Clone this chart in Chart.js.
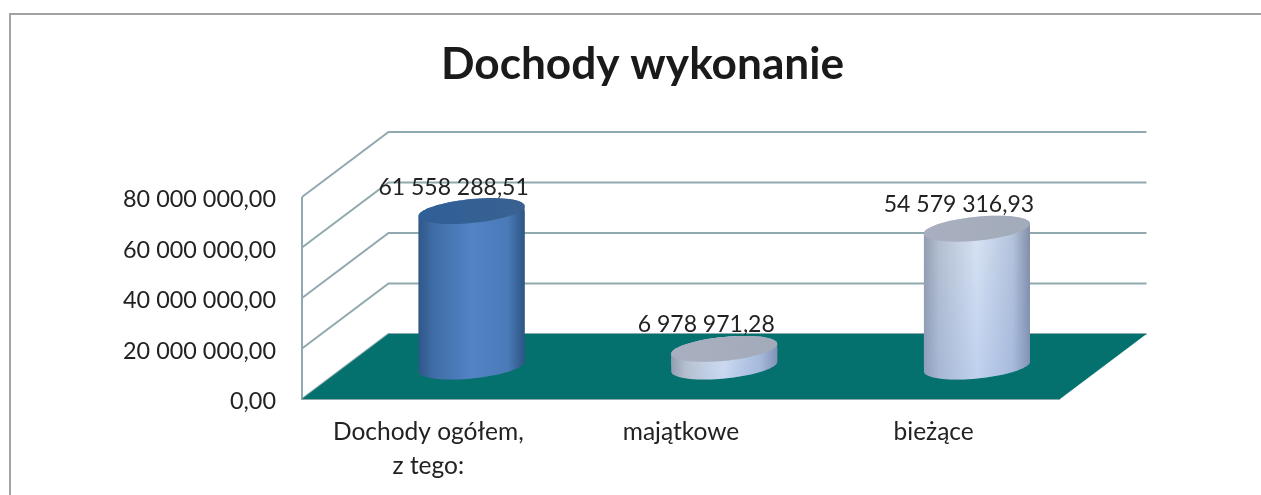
<!DOCTYPE html>
<html lang="pl">
<head>
<meta charset="utf-8">
<script src="https://cdn.jsdelivr.net/npm/chart.js@4/dist/chart.umd.min.js"></script>
<style>
html,body{margin:0;padding:0;background:#fff;overflow:hidden}
#wrap{position:relative;width:1261px;height:495px}
#frame{position:absolute;left:9px;top:13px;right:-4px;bottom:-4px;border:2px solid #a2a2a6;box-sizing:border-box}
canvas{position:absolute;left:0;top:0}
</style>
</head>
<body>
<div id="wrap"><div id="frame"></div><canvas id="c" width="1261" height="495"></canvas></div>
<script>
const titleText = 'Dochody wykonanie';
const categories = [['Dochody ogółem,', 'z tego:'], 'majątkowe', 'bieżące'];
const values = [61558288.51, 6978971.28, 54579316.93];
const barStops = [
  ['#2f5788', '#3f6da6', '#5283c4', '#4a7ab8', '#2e5583'],
  ['#939db0', '#b4bfd0', '#d8e3f3', '#b6c4db', '#828da6'],
  ['#939db0', '#b4bfd0', '#d8e3f3', '#b6c4db', '#828da6']
];
const capColors = [['#2f5f98', '#3a6190'], ['#a9afc0', '#a2abba'], ['#a9afc0', '#a2abba']];
const tint = [null, 'rgba(125,160,225,0.28)', 'rgba(125,160,225,0.28)'];

const FONT = 'Lato, Carlito, sans-serif';
const DX = 86.5, DY = -65;          // depth of the box
const RX = 53, SKEW = 5, RY = 12;

function fmt(v) {
  const [i, d] = Number(v).toFixed(2).split('.');
  return i.replace(/\B(?=(\d{3})+(?!\d))/g, ' ') + ',' + d;
}
function sideGrad(ctx, cx, stops) {
  const g = ctx.createLinearGradient(cx - RX, 0, cx + RX, 0);
  [0, 0.14, 0.5, 0.84, 1].forEach((p, i) => g.addColorStop(p, stops[i]));
  return g;
}
function ellipsePath(ctx, cx, cy) {
  ctx.beginPath();
  for (let i = 0; i <= 72; i++) {
    const t = i / 72 * Math.PI * 2;
    const x = cx + RX * Math.cos(t), y = cy - SKEW * Math.cos(t) + RY * Math.sin(t);
    i ? ctx.lineTo(x, y) : ctx.moveTo(x, y);
  }
  ctx.closePath();
}
function silhouette(ctx, cx, top, base) {
  for (let i = 0; i <= 36; i++) {
    const t = Math.PI + i / 36 * Math.PI;
    const x = cx + RX * Math.cos(t), y = top - SKEW * Math.cos(t) + RY * Math.sin(t);
    i ? ctx.lineTo(x, y) : ctx.moveTo(x, y);
  }
  for (let i = 0; i <= 36; i++) {
    const t = i / 36 * Math.PI;
    ctx.lineTo(cx + RX * Math.cos(t), base - SKEW * Math.cos(t) + RY * Math.sin(t));
  }
  ctx.closePath();
}

const box3d = {
  id: 'box3d',
  beforeDatasetsDraw(chart) {
    const { ctx, scales: { x, y }, chartArea: a } = chart;
    const zero = y.getPixelForValue(0);
    ctx.save();
    ctx.strokeStyle = '#8fa9ae';
    ctx.lineWidth = 2;
    ctx.beginPath();
    y.ticks.forEach(t => {
      const py = y.getPixelForValue(t.value);
      ctx.moveTo(a.left, py);
      ctx.lineTo(a.left + DX, py + DY);
      ctx.lineTo(a.right + DX, py + DY);
    });
    ctx.moveTo(a.left, a.top);
    ctx.lineTo(a.left, zero);
    ctx.lineTo(a.right, zero);
    ctx.stroke();
    ctx.fillStyle = '#05716f';
    ctx.beginPath();
    ctx.moveTo(a.left, zero);
    ctx.lineTo(a.right, zero);
    ctx.lineTo(a.right + DX, zero + DY);
    ctx.lineTo(a.left + DX, zero + DY);
    ctx.closePath();
    ctx.fill();
    ctx.restore();

    // everything in the dataset layer sits halfway into the box
    ctx.save();
    ctx.translate(DX / 2, DY / 2);
    const clipPath = new Path2D();
    chart.getDatasetMeta(0).data.forEach((bar, i) => {
      const one = new Path2D();
      silhouette(one, bar.x, bar.y, bar.base);
      ctx.fillStyle = sideGrad(ctx, bar.x, barStops[i]);
      ctx.fill(one);
      silhouette(clipPath, bar.x, bar.y, bar.base);
    });
    ctx.clip(clipPath);
  },
  afterDatasetsDraw(chart) {
    const { ctx } = chart;
    const bars = chart.getDatasetMeta(0).data;
    bars.forEach((bar, i) => {
      if (tint[i]) {
        const g = ctx.createLinearGradient(bar.x - RX * 0.4, bar.y, bar.x + RX * 0.4, bar.base + RY);
        g.addColorStop(0, 'rgba(125,160,225,0)');
        g.addColorStop(1, tint[i]);
        ctx.fillStyle = g;
        ctx.fillRect(bar.x - RX, bar.y - RY - SKEW, RX * 2, bar.base - bar.y + 2 * (RY + SKEW));
      }
    });
    ctx.restore();            // drops the clip and the translation
    ctx.save();
    ctx.translate(DX / 2, DY / 2);
    bars.forEach((bar, i) => {
      ellipsePath(ctx, bar.x, bar.y);
      const g = ctx.createLinearGradient(bar.x - RX, 0, bar.x + RX, 0);
      g.addColorStop(0, capColors[i][0]);
      g.addColorStop(1, capColors[i][1]);
      ctx.fillStyle = g;
      ctx.fill();
    });
    ctx.restore();
    ctx.save();
    ctx.fillStyle = '#222';
    ctx.font = '23px ' + FONT;
    ctx.textAlign = 'center';
    ctx.textBaseline = 'middle';
    bars.forEach((bar, i) => {
      ctx.fillText(fmt(values[i]), bar.x + DX / 2 - 18, bar.y + DY / 2 - 24);
    });
    ctx.restore();
  }
};

new Chart(document.getElementById('c'), {
  type: 'bar',
  data: {
    labels: categories,
    datasets: [{
      data: values,
      clip: false,
      borderWidth: 0,
      barThickness: RX * 2,
      backgroundColor: c => {
        const chart = c.chart;
        if (!chart.chartArea) return barStops[c.dataIndex][2];
        return sideGrad(chart.ctx, chart.scales.x.getPixelForTick(c.dataIndex), barStops[c.dataIndex]);
      }
    }]
  },
  plugins: [box3d],
  options: {
    responsive: false,
    animation: false,
    layout: { padding: { left: 24, right: 0, top: 0, bottom: 0 } },
    plugins: {
      legend: { display: false },
      tooltip: { enabled: false },
      title: {
        display: true,
        text: titleText,
        color: '#1a1a1a',
        font: { family: FONT, size: 44.2, weight: 'bold', lineHeight: 1.2 },
        padding: { top: 38.5, bottom: 105.5 }
      }
    },
    scales: {
      x: {
        grid: { display: false },
        border: { display: false },
        afterFit(a) { a.height = 96; },
        ticks: {
          color: '#222',
          font: { family: FONT, size: 24.5, lineHeight: 1.35 },
          padding: 9,
          autoSkip: false,
          maxRotation: 0
        }
      },
      y: {
        min: 0,
        max: 80000000,
        grid: { display: false },
        border: { display: false },
        afterFit(a) { a.width = 278; },
        ticks: {
          stepSize: 20000000,
          color: '#222',
          font: { family: FONT, size: 23.4 },
          padding: 18,
          labelOffset: 2.5,
          callback: v => fmt(v)
        }
      },
      yRight: {
        axis: 'y',
        position: 'right',
        min: 0,
        max: 1,
        grid: { display: false },
        border: { display: false },
        ticks: { display: false },
        afterFit(a) { a.width = 201; }
      }
    }
  }
});
</script>
</body>
</html>
